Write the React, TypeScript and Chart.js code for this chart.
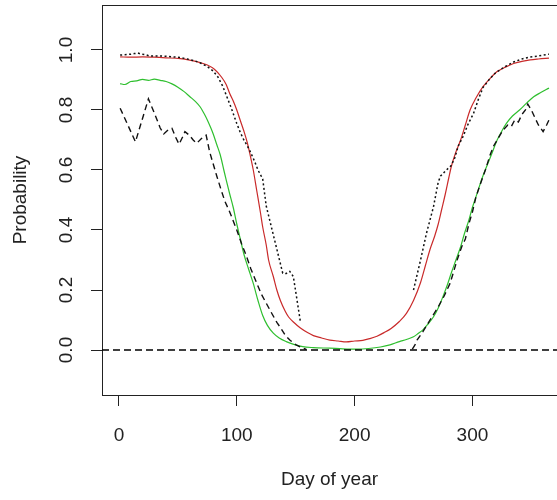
import { useEffect, useRef } from "react";
import { Chart, registerables } from "chart.js";

Chart.register(...registerables);

const FONT = "'Liberation Sans', Arial, Helvetica, sans-serif";
const INK = "#222222";

// Axis settings
const X_MIN = -14.4;
const X_MAX = 371.8;
const Y_MIN = -0.15;
const Y_MAX = 1.15;
const X_TICKS = [0, 100, 200, 300];
const Y_TICKS = [0, 0.2, 0.4, 0.6, 0.8, 1.0];
const X_TITLE = "Day of year";
const Y_TITLE = "Probability";
const ZERO_LINE = 0;

// Red solid series
const redDays = [1, 10, 20, 30, 40, 52, 60, 69, 75, 81, 87, 91, 94, 97, 100, 103, 106, 109, 111, 114, 117, 120, 122, 125, 127, 131, 134, 137, 141, 144, 149, 154, 160, 165, 172, 179, 186, 193, 200, 207, 213, 219, 225, 231, 238, 244, 250, 256, 260, 264, 268, 271, 274, 277, 280, 282, 286, 290, 294, 298, 303, 309, 315, 321, 328, 335, 342, 349, 356, 365];
const redVals = [0.977, 0.976, 0.977, 0.976, 0.974, 0.971, 0.966, 0.958, 0.95, 0.936, 0.91, 0.885, 0.855, 0.83, 0.8, 0.765, 0.73, 0.69, 0.656, 0.6, 0.53, 0.46, 0.41, 0.35, 0.3, 0.245, 0.2, 0.165, 0.13, 0.11, 0.09, 0.073, 0.058, 0.048, 0.04, 0.033, 0.03, 0.027, 0.03, 0.032, 0.038, 0.046, 0.058, 0.072, 0.095, 0.122, 0.165, 0.225, 0.28, 0.335, 0.38, 0.42, 0.47, 0.52, 0.575, 0.61, 0.66, 0.7, 0.75, 0.8, 0.84, 0.878, 0.905, 0.928, 0.943, 0.955, 0.962, 0.967, 0.97, 0.973];

// Green solid series
const greenDays = [1, 5, 10, 15, 20, 25, 30, 35, 40, 45, 50, 55, 60, 65, 69, 72, 75, 78, 80, 83, 86, 89, 91, 94, 97, 100, 103, 106, 110, 114, 118, 122, 126, 131, 136, 142, 149, 156, 165, 179, 190, 202, 212, 222, 230, 238, 244, 250, 254, 258, 262, 267, 271, 275, 279, 282, 286, 290, 293, 297, 300, 304, 308, 312, 316, 321, 325, 329, 334, 340, 346, 352, 358, 365];
const greenVals = [0.888, 0.885, 0.895, 0.897, 0.902, 0.899, 0.903, 0.899, 0.895, 0.887, 0.876, 0.862, 0.845, 0.828, 0.81, 0.79, 0.767, 0.74, 0.72, 0.685, 0.65, 0.6, 0.567, 0.52, 0.475, 0.42, 0.37, 0.32, 0.27, 0.222, 0.165, 0.115, 0.082, 0.056, 0.04, 0.028, 0.018, 0.011, 0.008, 0.006, 0.004, 0.003, 0.005, 0.01, 0.017, 0.028, 0.035, 0.044, 0.055, 0.067, 0.085, 0.111, 0.14, 0.178, 0.22, 0.256, 0.3, 0.344, 0.385, 0.433, 0.475, 0.522, 0.57, 0.611, 0.65, 0.7, 0.73, 0.756, 0.78, 0.8, 0.823, 0.844, 0.858, 0.873];

// Black dotted series (null = missing, gap in the line)
const dottedDays = [1, 5, 10, 13, 16, 19, 22, 26, 30, 35, 40, 46, 52, 58, 65, 70, 75, 80, 84, 88, 91, 95, 100, 103, 106, 109, 111, 115, 118, 122, 125, 130, 135, 139, 142, 145, 148, 151, 154, 200, 250, 253, 256, 261, 267, 271, 273, 278, 282, 285, 288, 292, 296, 301, 305, 309, 315, 320, 328, 335, 342, 349, 356, 365];
const dottedVals = [0.983, 0.984, 0.986, 0.988, 0.99, 0.986, 0.985, 0.98, 0.98, 0.98, 0.979, 0.977, 0.975, 0.97, 0.963, 0.955, 0.945, 0.93, 0.91, 0.88, 0.85, 0.81, 0.755, 0.725, 0.7, 0.68, 0.665, 0.63, 0.6, 0.57, 0.48, 0.4, 0.32, 0.256, 0.255, 0.262, 0.245, 0.17, 0.094, null, 0.2, 0.25, 0.3, 0.389, 0.478, 0.56, 0.58, 0.6, 0.615, 0.64, 0.68, 0.711, 0.75, 0.789, 0.835, 0.875, 0.905, 0.925, 0.945, 0.96, 0.97, 0.977, 0.98, 0.986];

// Black dashed series (null = missing, gap in the line)
const dashedDays = [1, 14, 25, 30, 35, 38, 42, 45, 48, 51, 54, 56, 60, 63, 66, 70, 74, 77, 80, 83, 87, 90, 94, 97, 100, 104, 108, 112, 117, 121, 125, 130, 134, 137, 141, 145, 150, 156, 159, 200, 249, 251, 253, 258, 264, 268, 271, 276, 281, 284, 287, 291, 294, 297, 300, 303, 307, 311, 315, 318, 321, 326, 330, 333, 336, 339, 342, 345, 347, 350, 353, 356, 360, 363, 365];
const dashedVals = [0.806, 0.694, 0.837, 0.79, 0.74, 0.72, 0.735, 0.739, 0.71, 0.686, 0.71, 0.728, 0.715, 0.7, 0.689, 0.705, 0.716, 0.66, 0.62, 0.58, 0.53, 0.495, 0.46, 0.43, 0.4, 0.355, 0.315, 0.27, 0.222, 0.185, 0.156, 0.12, 0.092, 0.075, 0.05, 0.033, 0.018, 0.006, 0.002, null, 0.003, 0.015, 0.033, 0.061, 0.1, 0.125, 0.144, 0.18, 0.222, 0.26, 0.3, 0.345, 0.37, 0.42, 0.46, 0.51, 0.556, 0.6, 0.65, 0.68, 0.7, 0.733, 0.75, 0.745, 0.767, 0.76, 0.785, 0.8, 0.82, 0.8, 0.775, 0.75, 0.728, 0.75, 0.767];

const zip = (xs: number[], ys: (number | null)[]) => xs.map((x, i) => ({ x, y: ys[i] }));

const boxPlugin = {
  id: "boxTop",
  afterDraw(chart: any) {
    const { ctx, chartArea } = chart;
    ctx.save();
    ctx.strokeStyle = INK;
    ctx.lineWidth = 1;
    ctx.beginPath();
    ctx.moveTo(chartArea.left, Math.round(chartArea.top) + 0.5);
    ctx.lineTo(chartArea.right, Math.round(chartArea.top) + 0.5);
    ctx.stroke();
    ctx.restore();
  },
};

export default function App() {
  const ref = useRef<HTMLCanvasElement>(null);

  useEffect(() => {
    document.body.style.margin = "0";
    const canvas = ref.current;
    if (!canvas) return;
    const chart = new Chart(canvas, {
      type: "line",
      data: {
        datasets: [
          {
            label: "zero",
            data: [{ x: X_MIN, y: ZERO_LINE }, { x: X_MAX, y: ZERO_LINE }],
            borderColor: "#000000",
            borderWidth: 1.5,
            borderDash: [7, 4],
            pointRadius: 0,
            tension: 0,
          },
          {
            label: "dotted",
            data: zip(dottedDays, dottedVals),
            borderColor: "#111111",
            borderWidth: 1.5,
            borderDash: [2, 2.5],
            pointRadius: 0,
            tension: 0,
            spanGaps: false,
          },
          {
            label: "red",
            data: zip(redDays, redVals),
            borderColor: "#c92a2a",
            borderWidth: 1.2,
            pointRadius: 0,
            cubicInterpolationMode: "monotone",
          },
          {
            label: "dashed",
            data: zip(dashedDays, dashedVals),
            borderColor: "#111111",
            borderWidth: 1.4,
            borderDash: [6, 4],
            pointRadius: 0,
            tension: 0,
            spanGaps: false,
          },
          {
            label: "green",
            data: zip(greenDays, greenVals),
            borderColor: "#2fbf2f",
            borderWidth: 1.2,
            pointRadius: 0,
            cubicInterpolationMode: "monotone",
          },
        ],
      },
      options: {
        animation: false,
        responsive: false,
        devicePixelRatio: 1,
        layout: { padding: { top: 5, left: 0, right: 0, bottom: 0 } },
        plugins: {
          legend: { display: false },
          tooltip: { enabled: false },
        },
        elements: { point: { radius: 0 } },
        scales: {
          x: {
            type: "linear",
            min: X_MIN,
            max: X_MAX,
            afterBuildTicks: (s: any) => {
              s.ticks = X_TICKS.map((v) => ({ value: v }));
            },
            afterFit: (s: any) => {
              s.height = 105;
              s.paddingLeft = 0;
              s.paddingRight = 0;
            },
            grid: {
              drawOnChartArea: false,
              drawTicks: true,
              tickLength: 11,
              tickColor: INK,
              lineWidth: 1,
            },
            border: { display: true, color: INK, width: 1 },
            ticks: {
              font: { family: FONT, size: 19 },
              color: INK,
              padding: 18,
              maxRotation: 0,
              minRotation: 0,
              autoSkip: false,
              callback: (v: any) => String(v),
            },
            title: {
              display: true,
              text: X_TITLE,
              color: INK,
              font: { family: FONT, size: 19 },
              padding: { top: 0, bottom: 9 },
            },
          },
          y: {
            type: "linear",
            min: Y_MIN,
            max: Y_MAX,
            afterBuildTicks: (s: any) => {
              s.ticks = Y_TICKS.map((v) => ({ value: v }));
            },
            afterFit: (s: any) => {
              s.width = 102;
              s.paddingTop = 0;
              s.paddingBottom = 0;
            },
            grid: {
              drawOnChartArea: false,
              drawTicks: true,
              tickLength: 11,
              tickColor: INK,
              lineWidth: 1,
            },
            border: { display: true, color: INK, width: 1 },
            ticks: {
              font: { family: FONT, size: 19 },
              color: INK,
              padding: 11,
              minRotation: 90,
              maxRotation: 90,
              crossAlign: "center",
              autoSkip: false,
              callback: (v: any) => Number(v).toFixed(1),
            },
            title: {
              display: true,
              text: Y_TITLE,
              color: INK,
              font: { family: FONT, size: 19 },
              padding: { top: 9, bottom: 0 },
            },
          },
        },
      } as any,
      plugins: [boxPlugin],
    });
    return () => chart.destroy();
  }, []);

  return (
    <div style={{ width: 557, height: 500, background: "#fff" }}>
      <canvas ref={ref} width={557} height={500} style={{ display: "block" }} />
    </div>
  );
}
